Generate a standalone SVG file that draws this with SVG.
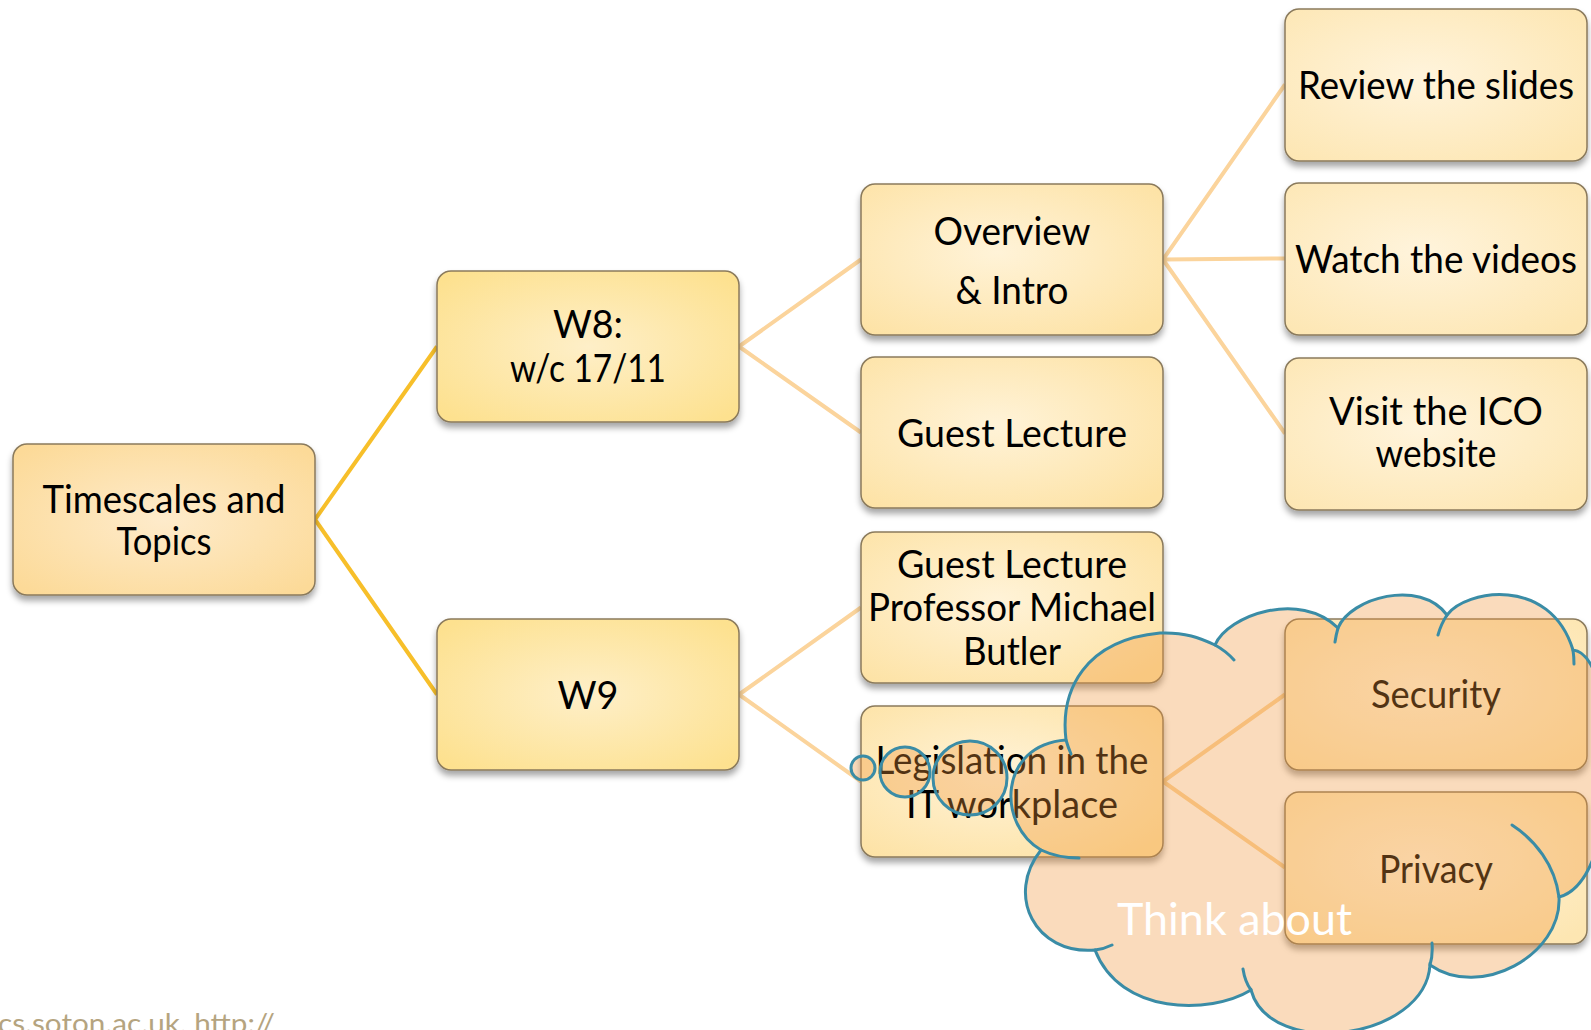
<svg xmlns="http://www.w3.org/2000/svg" width="1591" height="1030" viewBox="0 0 1591 1030">
<defs>
<filter id="sh" x="-10%" y="-10%" width="120%" height="130%">
<feDropShadow dx="0" dy="5" stdDeviation="3" flood-color="#000" flood-opacity="0.35"/>
</filter>
<radialGradient id="g1" cx="50%" cy="50%" r="65%">
<stop offset="0" stop-color="#FEEBCB"/><stop offset="1" stop-color="#FCDA98"/>
</radialGradient>
<radialGradient id="g2" cx="50%" cy="50%" r="65%">
<stop offset="0" stop-color="#FEEFC8"/><stop offset="1" stop-color="#FDE18F"/>
</radialGradient>
<radialGradient id="g3" cx="45%" cy="45%" r="70%">
<stop offset="0" stop-color="#FFF3D8"/><stop offset="1" stop-color="#FDE2A4"/>
</radialGradient>
<radialGradient id="g4" cx="45%" cy="45%" r="70%">
<stop offset="0" stop-color="#FFF4DC"/><stop offset="1" stop-color="#FDE6B2"/>
</radialGradient>
<style>
.box{stroke:#8A7A5C;stroke-width:1.5;filter:url(#sh)}
.l1{fill:url(#g1)}.l2{fill:url(#g2)}.l3{fill:url(#g3)}.l4{fill:url(#g4)}
.t{font-family:Lato,"Open Sans",sans-serif;font-size:38px;fill:#000;text-anchor:middle}
.c1{stroke:#F7BF2A;stroke-width:4;fill:none}
.c2{stroke:#FBD49C;stroke-width:4;fill:none}
.cloud{fill:#F0963C;fill-opacity:0.34;stroke:none}
.cl{fill:none;stroke:#3A8CA6;stroke-width:3;stroke-linecap:round}
</style>
</defs>
<rect width="1591" height="1030" fill="#fff"/>
<g id="connectors">
<path class="c1" d="M315,519.5 L437,346.5 M315,519.5 L437,694.5"/>
<path class="c2" d="M739,346.5 L861,259.5 M739,346.5 L861,432.5 M739,694.5 L861,607.5 M739,694.5 L861,781.5"/>
<path class="c2" d="M1163,259.5 L1285,84.5 M1163,259.5 L1285,258.5 M1163,259.5 L1285,433.5 M1163,781.5 L1285,694.5 M1163,781.5 L1285,867.5"/>
</g>
<g id="n-timescales"><rect class="box l1" x="13" y="444" width="302" height="151" rx="14"/>
<text class="t" x="164" y="513" textLength="243" lengthAdjust="spacingAndGlyphs">Timescales and</text>
<text class="t" x="164" y="555" textLength="95" lengthAdjust="spacingAndGlyphs">Topics</text></g>
<g id="n-w8"><rect class="box l2" x="437" y="271" width="302" height="151" rx="14"/>
<text class="t" x="588" y="338" textLength="70" lengthAdjust="spacingAndGlyphs">W8:</text>
<text class="t" x="588" y="382" textLength="156" lengthAdjust="spacingAndGlyphs">w/c 17/11</text></g>
<g id="n-w9"><rect class="box l2" x="437" y="619" width="302" height="151" rx="14"/>
<text class="t" x="588" y="709" textLength="61" lengthAdjust="spacingAndGlyphs">W9</text></g>
<g id="n-overview"><rect class="box l3" x="861" y="184" width="302" height="151" rx="14"/>
<text class="t" x="1012" y="244.5" textLength="157" lengthAdjust="spacingAndGlyphs">Overview</text>
<text class="t" x="1012" y="303.5" textLength="113" lengthAdjust="spacingAndGlyphs">&amp; Intro</text></g>
<g id="n-guest"><rect class="box l3" x="861" y="357" width="302" height="151" rx="14"/>
<text class="t" x="1012" y="447" textLength="230" lengthAdjust="spacingAndGlyphs">Guest Lecture</text></g>
<g id="n-guest2"><rect class="box l3" x="861" y="532" width="302" height="151" rx="14"/>
<text class="t" x="1012" y="578" textLength="230" lengthAdjust="spacingAndGlyphs">Guest Lecture</text>
<text class="t" x="1012" y="621" textLength="288" lengthAdjust="spacingAndGlyphs">Professor Michael</text>
<text class="t" x="1012" y="664.5" textLength="98" lengthAdjust="spacingAndGlyphs">Butler</text></g>
<g id="n-legislation"><rect class="box l3" x="861" y="706" width="302" height="151" rx="14"/>
<text class="t" x="1012" y="774" textLength="273" lengthAdjust="spacingAndGlyphs">Legislation in the</text>
<text class="t" x="1012" y="818" textLength="212" lengthAdjust="spacingAndGlyphs">IT workplace</text></g>
<g id="n-review"><rect class="box l4" x="1285" y="9" width="302" height="152" rx="14"/>
<text class="t" x="1436" y="99" textLength="276" lengthAdjust="spacingAndGlyphs">Review the slides</text></g>
<g id="n-watch"><rect class="box l4" x="1285" y="183" width="302" height="152" rx="14"/>
<text class="t" x="1436" y="273" textLength="282" lengthAdjust="spacingAndGlyphs">Watch the videos</text></g>
<g id="n-visit"><rect class="box l4" x="1285" y="358" width="302" height="152" rx="14"/>
<text class="t" x="1436" y="425" textLength="214" lengthAdjust="spacingAndGlyphs">Visit the ICO</text>
<text class="t" x="1436" y="467" textLength="121" lengthAdjust="spacingAndGlyphs">website</text></g>
<g id="n-security"><rect class="box l4" x="1285" y="619" width="302" height="151" rx="14"/>
<text class="t" x="1436" y="708" textLength="130" lengthAdjust="spacingAndGlyphs">Security</text></g>
<g id="n-privacy"><rect class="box l4" x="1285" y="792" width="302" height="152" rx="14"/>
<text class="t" x="1436" y="883" textLength="114" lengthAdjust="spacingAndGlyphs">Privacy</text></g>
<g id="n-cloud">
<path class="cloud" d="M1066,740 C1060,690 1085,640 1160,633 C1185,632 1200,638 1215,645 C1228,615 1300,590 1338,628 C1350,598 1420,578 1447,615 C1465,590 1550,575 1573,650 C1620,655 1625,880 1559,897 C1562,955 1480,1000 1430,965 C1425,1040 1270,1060 1251,990 C1210,1015 1120,1015 1095,950 C1035,955 1005,895 1041,850 C997,825 998,745 1066,740 Z"/>
<circle class="cloud" cx="863" cy="768" r="12"/>
<circle class="cloud" cx="905" cy="772" r="25"/>
<circle class="cloud" cx="970" cy="778" r="37"/>
<path class="cl" d="M1066,740 C1060,690 1085,640 1160,633 C1185,632 1200,638 1215,645 C1228,615 1300,590 1338,628 C1350,598 1420,578 1447,615 C1465,590 1550,575 1573,650 C1620,655 1625,880 1559,897 C1562,955 1480,1000 1430,965 C1425,1040 1270,1060 1251,990 C1210,1015 1120,1015 1095,950 C1035,955 1005,895 1041,850 C997,825 998,745 1066,740"/>
<path class="cl" d="M1066,740 Q1068,747 1071,754 M1215,645 Q1226,651 1234,660 M1338,628 Q1336,635 1335,642 M1447,615 Q1441,624 1438,635 M1573,650 Q1574,657 1574,664 M1512,825 C1535,840 1555,865 1559,897 M1430,965 Q1433,955 1432,943 M1251,990 Q1245,982 1243,969 M1095,950 Q1104,949 1112,945 M1041,850 Q1058,858 1079,858"/>
<circle class="cl" cx="863" cy="768" r="12"/>
<circle class="cl" cx="905" cy="772" r="25"/>
<circle class="cl" cx="970" cy="778" r="37"/>
<text x="1234.5" y="935" font-family="Lato,'Open Sans',sans-serif" font-size="44" fill="#fff" text-anchor="middle" textLength="235" lengthAdjust="spacingAndGlyphs">Think about</text>
</g>
<text x="-2" y="1033" font-family="Lato,'Open Sans',sans-serif" font-size="26" fill="#B5A47F" textLength="277" lengthAdjust="spacingAndGlyphs">cs.soton.ac.uk, http://</text>
</svg>
